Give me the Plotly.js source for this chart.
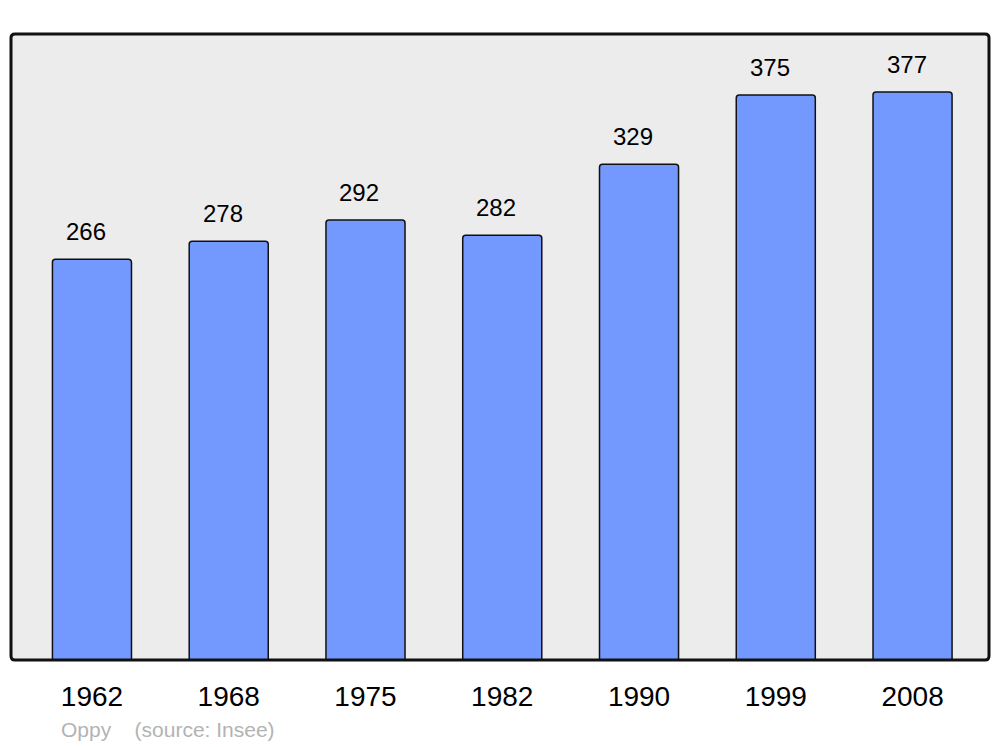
<!DOCTYPE html>
<html>
<head>
<meta charset="utf-8">
<script src="https://cdn.plot.ly/plotly-3.0.1.min.js"></script>
<style>html,body{margin:0;padding:0;background:#fff;}#chart{width:1000px;height:747px;}</style>
</head>
<body>
<div id="chart"></div>
<script>
const years = ["1962", "1968", "1975", "1982", "1990", "1999", "2008"];
const population = [266, 278, 292, 282, 329, 375, 377];
const footerText = "Oppy\u00a0\u00a0\u00a0\u00a0(source: Insee)";

const positions = years.map((_, i) => i);
const rx = 4 / 978, ry = 4 / 626;
const framePath = `M ${rx} 0 L ${1 - rx} 0 Q 1 0 1 ${ry} L 1 ${1 - ry} Q 1 1 ${1 - rx} 1 L ${rx} 1 Q 0 1 0 ${1 - ry} L 0 ${ry} Q 0 0 ${rx} 0 Z`;

const trace = {
  type: "bar",
  x: positions,
  y: population,
  width: 0.578,
  marker: { color: "#7399ff", line: { color: "#111111", width: 1.5 }, cornerradius: 3 },
  hoverinfo: "y"
};

const annotations = positions.map((p, i) => ({
  x: p, y: population[i], xref: "x", yref: "y",
  text: String(population[i]), showarrow: false,
  yanchor: "bottom", yshift: 12, xshift: -6,
  font: { family: "Liberation Sans, Arial, sans-serif", size: 24, color: "#000" }
}));
annotations.push({
  xref: "paper", yref: "paper", x: 48 / 978, y: -69 / 626,
  xanchor: "left", yanchor: "middle", showarrow: false,
  text: footerText,
  font: { family: "Liberation Sans, Arial, sans-serif", size: 21, color: "#b3b3b3" }
});

const layout = {
  width: 1000, height: 747,
  margin: { l: 11, r: 11, t: 34, b: 87, pad: 0 },
  paper_bgcolor: "#ffffff",
  plot_bgcolor: "rgba(0,0,0,0)",
  showlegend: false,
  xaxis: {
    type: "linear",
    range: [-0.592, 6.559],
    tickmode: "array", tickvals: positions, ticktext: years,
    showgrid: false, zeroline: false, showline: false,
    ticks: "", ticklabelstandoff: 17,
    tickfont: { family: "Liberation Sans, Arial, sans-serif", size: 28, color: "#000" },
    fixedrange: true
  },
  yaxis: {
    range: [0, 415.5],
    showgrid: false, zeroline: false, showline: false,
    showticklabels: false, ticks: "",
    fixedrange: true
  },
  shapes: [
    { type: "path", xref: "paper", yref: "paper", path: framePath,
      fillcolor: "#ececec", line: { width: 0 }, layer: "below" },
    { type: "path", xref: "paper", yref: "paper", path: framePath,
      fillcolor: "rgba(0,0,0,0)", line: { color: "#111111", width: 3 }, layer: "above" }
  ],
  annotations: annotations
};

Plotly.newPlot("chart", [trace], layout, { displayModeBar: false, staticPlot: true });
</script>
</body>
</html>
